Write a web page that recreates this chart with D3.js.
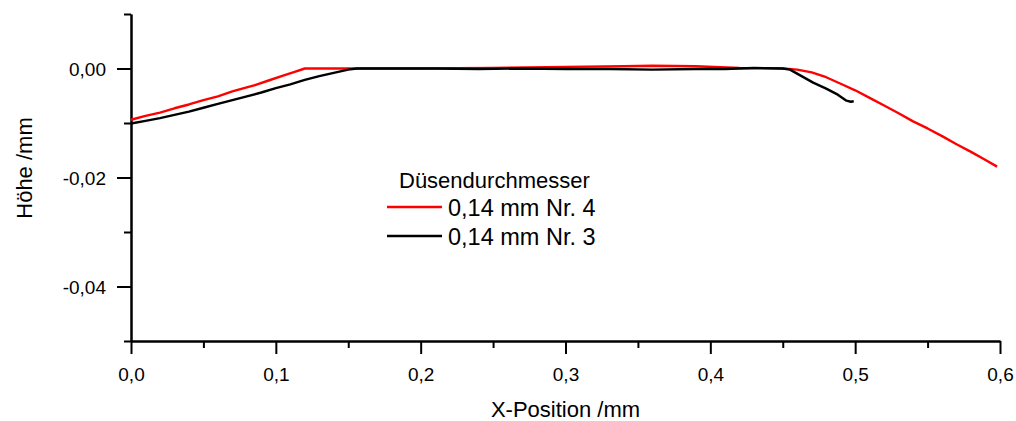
<!DOCTYPE html>
<html>
<head>
<meta charset="utf-8">
<script src="https://cdn.jsdelivr.net/npm/d3@7"></script>
<style>
  body { margin: 0; background: #fff; }
  svg { font-family: "Liberation Sans", Arial, sans-serif; }
</style>
</head>
<body>
<div id="container"></div>
<script>
// values
let redX = [0.000, 0.010, 0.020, 0.030, 0.040, 0.050, 0.060, 0.070, 0.078, 0.085,
  0.095, 0.105, 0.113, 0.120, 0.150, 0.200, 0.250, 0.300, 0.340, 0.360,
  0.390, 0.420, 0.450, 0.460, 0.470, 0.480, 0.490, 0.500, 0.510, 0.520,
  0.530, 0.540, 0.550, 0.560, 0.570, 0.580, 0.590, 0.598];
let redY = [-0.0094, -0.0087, -0.0081, -0.0073, -0.0066, -0.0058, -0.0051, -0.0042, -0.0036, -0.0031,
  -0.0022, -0.0013, -0.0006, 0.0000, 0.0000, 0.0000, 0.0001, 0.0003, 0.0004, 0.0005,
  0.0004, 0.0001, 0.0000, -0.0002, -0.0007, -0.0016, -0.0028, -0.0040, -0.0054, -0.0068,
  -0.0082, -0.0097, -0.0110, -0.0124, -0.0139, -0.0153, -0.0168, -0.0180];

let blackX = [0.000, 0.010, 0.020, 0.030, 0.040, 0.050, 0.060, 0.070, 0.080, 0.090,
  0.100, 0.110, 0.120, 0.130, 0.140, 0.150, 0.156, 0.180, 0.210, 0.240,
  0.270, 0.300, 0.330, 0.360, 0.390, 0.410, 0.430, 0.450, 0.455, 0.463,
  0.471, 0.480, 0.488, 0.494, 0.497, 0.499];
let blackY = [-0.0101, -0.0096, -0.0091, -0.0085, -0.0079, -0.0072, -0.0065, -0.0058, -0.0051, -0.0044,
  -0.0036, -0.0029, -0.0021, -0.0014, -0.0008, -0.0002, 0.0000, 0.0000, 0.0000, -0.0001,
  0.0000, -0.0001, -0.0001, -0.0002, -0.0001, -0.0001, 0.0001, 0.0000, -0.0002, -0.0014,
  -0.0026, -0.0037, -0.0048, -0.0059, -0.0061, -0.0060];

let xMajor = [0, 0.1, 0.2, 0.3, 0.4, 0.5, 0.6];
let xMinor = [0.05, 0.15, 0.25, 0.35, 0.45, 0.55];
let yMajor = [0, -0.02, -0.04];
let yMinor = [0.01, -0.01, -0.03, -0.05];

let seriesNames = ["0,14 mm Nr. 4", "0,14 mm Nr. 3"];
let seriesColors = ["#ff0000", "#000000"];

let width = 1016, height = 421;
let plotLeft = 131, plotRight = 1000, plotTop = 14, plotBottom = 341;

let svg = d3.select("#container").append("svg")
  .attr("width", width)
  .attr("height", height);

let xScale = d3.scaleLinear().domain([0, 0.6]).range([plotLeft, plotRight]);
let yScale = d3.scaleLinear().domain([-0.05, 0.01]).range([plotBottom, plotTop]);

let comma = (f) => (v) => d3.format(f)(v).replace(".", ",").replace("\u2212", "-");

// minor ticks first, then major axes on top
svg.append("g")
  .attr("transform", "translate(0," + plotBottom + ")")
  .call(d3.axisBottom(xScale).tickValues(xMinor).tickFormat("").tickSize(7).tickSizeOuter(0));
svg.append("g")
  .attr("transform", "translate(" + plotLeft + ",0)")
  .call(d3.axisLeft(yScale).tickValues(yMinor).tickFormat("").tickSize(7).tickSizeOuter(0));

let xAxisG = svg.append("g")
  .attr("transform", "translate(0," + plotBottom + ")")
  .call(d3.axisBottom(xScale).tickValues(xMajor).tickFormat(comma(".1f")).tickSize(13).tickSizeOuter(0).tickPadding(14));
let yAxisG = svg.append("g")
  .attr("transform", "translate(" + plotLeft + ",0)")
  .call(d3.axisLeft(yScale).tickValues(yMajor).tickFormat(comma(".2f")).tickSize(14).tickSizeOuter(0).tickPadding(11));

svg.selectAll(".domain, .tick line")
  .attr("stroke", "#000")
  .attr("stroke-width", 2);
svg.selectAll(".tick text")
  .attr("fill", "#000")
  .style("font-size", "19px")
  .style("font-family", "Liberation Sans, Arial, sans-serif");
yAxisG.selectAll(".tick text").attr("dy", "0.36em");

// data lines
let line = d3.line()
  .x((d) => xScale(d[0]))
  .y((d) => yScale(d[1]));

let series = [
  d3.zip(redX, redY),
  d3.zip(blackX, blackY)
];

svg.append("g")
  .selectAll("path")
  .data(series)
  .enter()
  .append("path")
  .attr("d", line)
  .attr("fill", "none")
  .attr("stroke", (d, i) => seriesColors[i])
  .attr("stroke-width", 2.4)
  .attr("stroke-linejoin", "round");

// axis titles
svg.append("text")
  .attr("x", (plotLeft + plotRight) / 2)
  .attr("y", 417)
  .attr("text-anchor", "middle")
  .style("font-size", "22px")
  .text("X-Position /mm");

svg.append("text")
  .attr("transform", "translate(32,168) rotate(-90)")
  .attr("text-anchor", "middle")
  .style("font-size", "22px")
  .text("Höhe /mm");

// legend
let legend = svg.append("g").attr("transform", "translate(387,0)");
legend.append("text")
  .attr("x", 12)
  .attr("y", 188)
  .style("font-size", "22px")
  .text("Düsendurchmesser");

let rows = legend.selectAll(".row")
  .data(seriesNames)
  .enter()
  .append("g")
  .attr("class", "row")
  .attr("transform", (d, i) => "translate(0," + (207 + i * 29) + ")");
rows.append("line")
  .attr("x1", 0)
  .attr("x2", 55)
  .attr("stroke", (d, i) => seriesColors[i])
  .attr("stroke-width", 2.4);
rows.append("text")
  .attr("x", 61)
  .attr("y", 9)
  .style("font-size", "23.5px")
  .text((d) => d);
</script>
</body>
</html>
